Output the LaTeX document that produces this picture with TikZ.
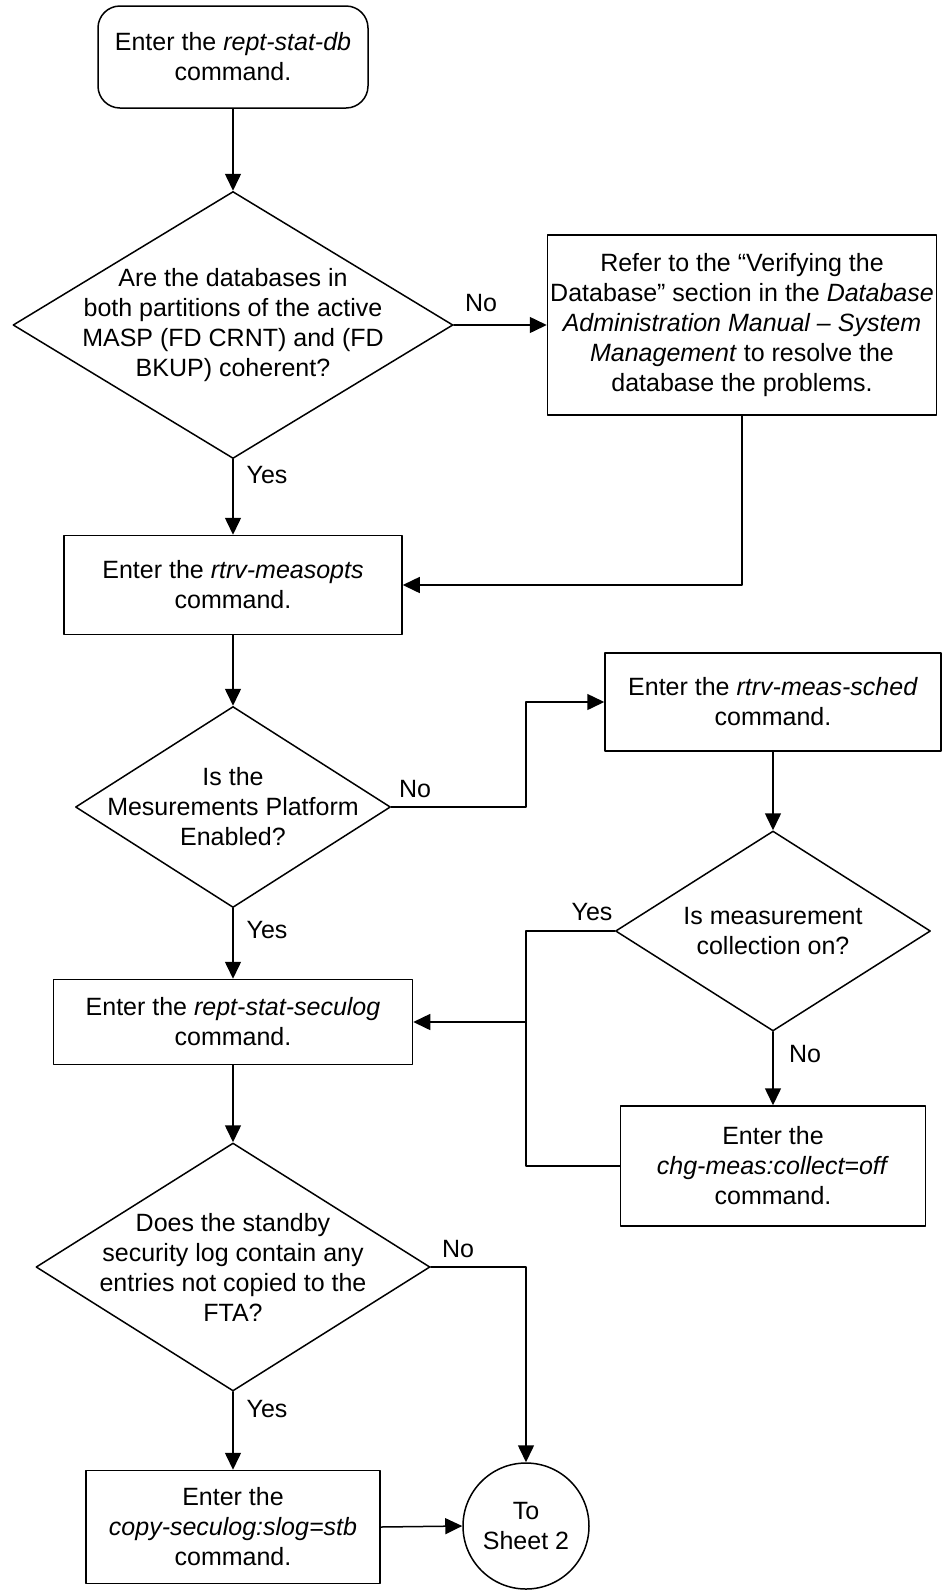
\documentclass[tikz,border=0pt]{standalone}
\usepackage{fontspec}
\setmainfont{Liberation Sans}
\usetikzlibrary{arrows.meta,shapes.geometric}
\begin{document}
\begin{tikzpicture}[line cap=round,line join=round,>={Triangle[length=17pt,width=16pt]},x=1pt,y=-1pt,line width=1.5pt,
  every node/.style={font=\fontsize{25}{30}\selectfont,align=center,inner sep=0pt},
  box/.style={draw,rectangle},
  decision/.style={draw,diamond}]
\useasboundingbox (0,0) rectangle (947,1591);
\node [box,rounded corners=22pt,minimum width=270pt,minimum height=102pt] (start) at (233,57) {Enter the \textit{rept-stat-db}\\command.};
\node [decision,minimum width=440pt,minimum height=267pt,label={center:{Are the databases in\\both partitions of the active\\MASP (FD CRNT) and (FD\\BKUP) coherent?}}] (d1) at (233,325) {};
\node [box,minimum width=389pt,minimum height=180pt] (refer) at (742,325) {Refer to the “Verifying the\\Database” section in the \textit{Database}\\\textit{Administration Manual – System}\\\textit{Management} to resolve the\\database the problems.};
\node [box,minimum width=338pt,minimum height=99pt] (measopts) at (233,585) {Enter the \textit{rtrv-measopts}\\command.};
\node [decision,minimum width=315pt,minimum height=201pt,label={center:{Is the\\Mesurements Platform\\Enabled?}}] (d2) at (233,807) {};
\node [box,minimum width=336pt,minimum height=98pt] (sched) at (773,702) {Enter the \textit{rtrv-meas-sched}\\command.};
\node [decision,minimum width=315pt,minimum height=200pt,label={center:{Is measurement\\collection on?}}] (d3) at (773,931) {};
\node [box,minimum width=305pt,minimum height=120pt] (chg) at (773,1166) {Enter the\\\textit{chg-meas:collect=off}\\command.};
\node [box,minimum width=359pt,minimum height=85pt] (seculog) at (233,1022) {Enter the \textit{rept-stat-seculog}\\command.};
\node [decision,minimum width=394pt,minimum height=248pt,label={center:{Does the standby\\security log contain any\\entries not copied to the\\FTA?}}] (d4) at (233,1267) {};
\node [box,minimum width=294pt,minimum height=113pt] (copy) at (233,1527) {Enter the\\\textit{copy-seculog:slog=stb}\\command.};
\node [draw,circle,minimum size=126pt] (sheet) at (526,1526) {To\\Sheet 2};
\coordinate (bend) at (526,700);
\node (no1) at (481,303) {No};
\node (yes1) at (267,475) {Yes};
\node (no2) at (415,789) {No};
\node (yes2) at (267,930) {Yes};
\node (yes3) at (592,912) {Yes};
\node (no3) at (805,1054) {No};
\node (no4) at (458,1249) {No};
\node (yes4) at (267,1409) {Yes};
\draw [->] (start.south) -- (d1.north);
\draw [->] (d1.east) -- (refer.west);
\draw [->] (refer.south) |- (measopts.east);
\draw [->] (d1.south) -- (measopts.north);
\draw [->] (measopts.south) -- (d2.north);
\draw [->] (d2.east) -- (d2.east -| bend) |- (sched.west);
\draw [->] (sched.south) -- (d3.north);
\draw [->] (d3.south) -- (chg.north);
\draw (d3.west) -- (d3.west -| bend) |- (chg.west);
\draw [->] (bend |- seculog.east) -- (seculog.east);
\draw [->] (d2.south) -- (seculog.north);
\draw [->] (seculog.south) -- (d4.north);
\draw [->] (d4.south) -- (copy.north);
\draw [->] (d4.east) -| (sheet.north);
\draw [->] (copy.east) -- (sheet.west);
\end{tikzpicture}
\end{document}
